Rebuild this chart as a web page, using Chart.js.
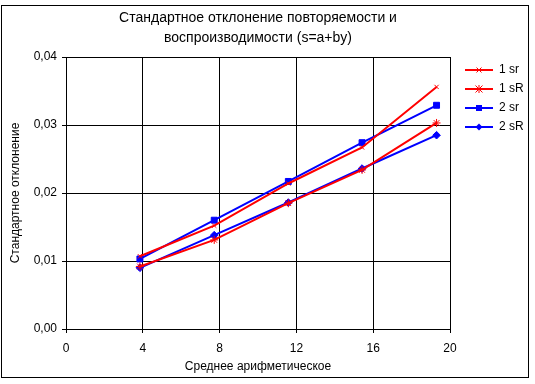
<!DOCTYPE html>
<html>
<head>
<meta charset="utf-8">
<script src="https://cdn.jsdelivr.net/npm/chart.js@4/dist/chart.umd.min.js"></script>
<style>
html,body{margin:0;padding:0;background:#fff;}
#wrap{position:relative;width:535px;height:384px;}
</style>
</head>
<body>
<div id="wrap"><canvas id="c" width="535" height="384"></canvas></div>
<script>
// ---- data ----
const xValues = [3.85, 7.72, 11.58, 15.42, 19.3];
const series1sr = [0.0107, 0.0152, 0.0214, 0.0267, 0.0356];
const series1sR = [0.0092, 0.0131, 0.0185, 0.0234, 0.0303];
const series2sr = [0.0103, 0.0160, 0.0217, 0.0274, 0.0329];
const series2sR = [0.0090, 0.0138, 0.0186, 0.0236, 0.0285];
const seriesNames = ['1 sr', '1 sR', '2 sr', '2 sR'];
const yTickLabels = ['0,00', '0,01', '0,02', '0,03', '0,04'];
const xTickLabels = ['0', '4', '8', '12', '16', '20'];
const titleLines = ['Стандартное отклонение повторяемости и', 'воспроизводимости (s=a+by)'];
const xTitle = 'Среднее арифметическое';
const yTitle = 'Стандартное отклонение';

const RED = '#FF0000', BLUE = '#0000FF';
const FONT = '"Liberation Sans", Arial, sans-serif';

function pts(ys){ return xValues.map((x,i)=>({x:x, y:ys[i]})); }

// legend symbol: line with marker
function legendIcon(color, style){
  const W = 36, H = 12, c = document.createElement('canvas');
  c.width = W; c.height = H;
  const g = c.getContext('2d');
  const x0 = W - 28, cx = x0 + 14, cy = H/2;
  g.strokeStyle = color; g.fillStyle = color; g.lineWidth = 2;
  g.beginPath(); g.moveTo(x0, cy); g.lineTo(W, cy); g.stroke();
  g.lineWidth = 1;
  if (style === 'cross') {
    g.beginPath(); g.moveTo(cx-2.5,cy-2.5); g.lineTo(cx+2.5,cy+2.5); g.moveTo(cx+2.5,cy-2.5); g.lineTo(cx-2.5,cy+2.5); g.stroke();
  } else if (style === 'star') {
    g.beginPath(); g.moveTo(cx-3.5,cy-3.5); g.lineTo(cx+3.5,cy+3.5); g.moveTo(cx+3.5,cy-3.5); g.lineTo(cx-3.5,cy+3.5);
    g.moveTo(cx,cy-4); g.lineTo(cx,cy+4); g.stroke();
  } else if (style === 'rect') {
    g.fillRect(cx-3, cy-3, 6, 6);
  } else if (style === 'diamond') {
    g.beginPath(); g.moveTo(cx,cy-3.5); g.lineTo(cx+3.5,cy); g.lineTo(cx,cy+3.5); g.lineTo(cx-3.5,cy); g.closePath(); g.fill();
  }
  return c;
}
const icons = [legendIcon(RED,'cross'), legendIcon(RED,'star'), legendIcon(BLUE,'rect'), legendIcon(BLUE,'diamond')];

const outerBorder = {
  id: 'outerBorder',
  beforeDraw(chart){
    const ctx = chart.ctx;
    ctx.save();
    ctx.fillStyle = '#fff';
    ctx.fillRect(0,0,chart.width,chart.height);
    ctx.strokeStyle = '#000'; ctx.lineWidth = 1;
    ctx.strokeRect(1.5, 5.5, 527, 372);
    ctx.restore();
  }
};

const mk = (label, data, color, pointStyle, radius) => ({
  label, data, borderColor: color, backgroundColor: color,
  borderWidth: 2, pointStyle, pointRadius: radius, pointHoverRadius: radius,
  pointBorderColor: color, pointBackgroundColor: color, pointBorderWidth: 1,
  showLine: true, tension: 0, fill: false
});

new Chart(document.getElementById('c'), {
  type: 'scatter',
  data: {
    datasets: [
      mk(seriesNames[0], pts(series1sr), RED, 'crossRot', 3),
      mk(seriesNames[1], pts(series1sR), RED, 'star', 4),
      mk(seriesNames[2], pts(series2sr), BLUE, 'rect', 4.2),
      mk(seriesNames[3], pts(series2sR), BLUE, 'rectRot', 3.8)
    ]
  },
  plugins: [outerBorder],
  options: {
    responsive: false,
    animation: false,
    events: [],
    layout: { padding: { left: 2, top: 5, right: 8, bottom: 8 } },
    plugins: {
      tooltip: { enabled: false },
      title: {
        display: true,
        fullSize: false,
        text: titleLines,
        color: '#000',
        font: { family: FONT, size: 14, weight: 'normal', lineHeight: 20/14 },
        padding: { top: 3, bottom: 9 }
      },
      legend: {
        display: true,
        position: 'right',
        align: 'start',
        fullSize: false,
        maxWidth: 77,
        labels: {
          color: '#000',
          font: { family: FONT, size: 12 },
          usePointStyle: true,
          pointStyleWidth: 36,
          padding: 7,
          generateLabels(chart){
            return chart.data.datasets.map((ds,i)=>({
              text: ds.label, pointStyle: icons[i], fillStyle: ds.borderColor,
              strokeStyle: ds.borderColor, lineWidth: 0, hidden: false, datasetIndex: i, fontColor: '#000'
            }));
          }
        }
      }
    },
    scales: {
      x: {
        type: 'linear', min: 0, max: 20,
        afterFit(s){ s.height = 47; },
        afterBuildTicks(s){ s.ticks = xTickLabels.map(v=>({value: Number(v)})); },
        ticks: { color: '#000', font: { family: FONT, size: 12 }, padding: 8, maxRotation: 0,
                 callback: (v,i)=> xTickLabels[i] },
        grid: { color: '#000', lineWidth: 1, drawTicks: true, tickLength: 4 },
        border: { color: '#000', width: 1 },
        title: { display: true, text: xTitle, color: '#000', font: { family: FONT, size: 12 }, padding: { top: 0, bottom: 2 } }
      },
      y: {
        type: 'linear', min: 0, max: 0.04,
        afterFit(s){ s.width = 64; },
        afterBuildTicks(s){ s.ticks = yTickLabels.map((t,i)=>({value: i*0.01})); },
        ticks: { color: '#000', font: { family: FONT, size: 12 }, padding: 5,
                 callback: (v,i)=> yTickLabels[i] },
        grid: { color: '#000', lineWidth: 1, drawTicks: true, tickLength: 4 },
        border: { color: '#000', width: 1 },
        title: { display: true, text: yTitle, color: '#000', font: { family: FONT, size: 12 }, padding: { top: 6, bottom: 0 } }
      }
    }
  }
});
</script>
</body>
</html>
